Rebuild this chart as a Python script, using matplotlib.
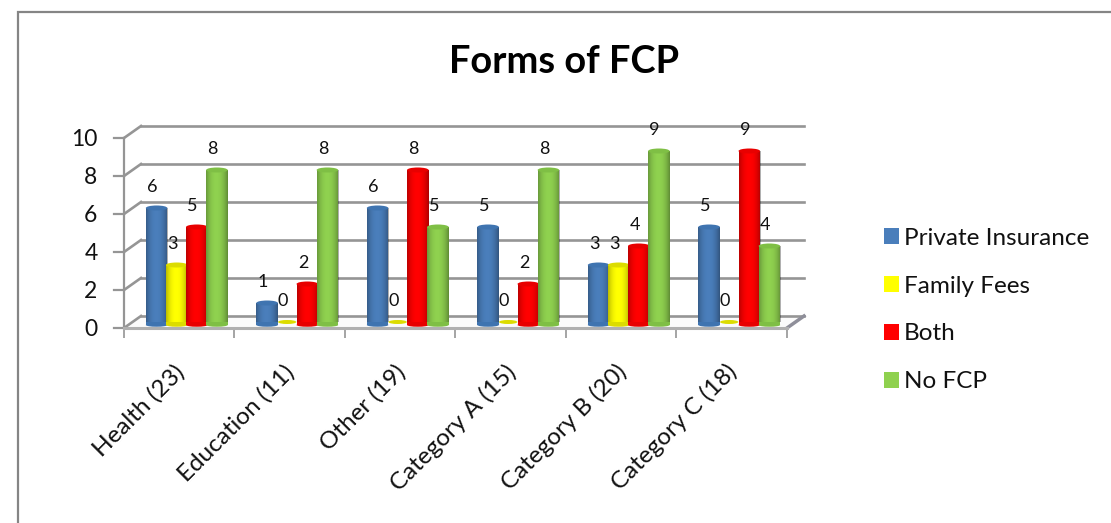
import numpy as np
import matplotlib
matplotlib.use("Agg")
import matplotlib.pyplot as plt
from matplotlib.transforms import Affine2D
from matplotlib.patches import Ellipse, Rectangle, Polygon

categories = ["Health (23)", "Education (11)", "Other (19)", "Category A (15)", "Category B (20)", "Category C (18)"]
private_insurance = [6, 1, 6, 5, 3, 5]
family_fees = [3, 0, 0, 0, 3, 0]
both = [5, 2, 8, 2, 4, 9]
no_fcp = [8, 8, 5, 8, 9, 4]
series_names = ["Private Insurance", "Family Fees", "Both", "No FCP"]
series_values = [private_insurance, family_fees, both, no_fcp]
series_colors = ["#4a7ebb", "#ffff00", "#ff0000", "#8fd14f"]
series_dark = ["#3f74b0", "#dcdc00", "#e80000", "#7fbf45"]
y_ticks = [0, 2, 4, 6, 8, 10]
title = "Forms of FCP"

W, H = 1111, 523
plt.rcParams["font.family"] = ["Lato", "DejaVu Sans"]
fig = plt.figure(figsize=(W / 100, H / 100), dpi=100)
L, R, T, B = 124, 787, 138, 328
ax = fig.add_axes([L / W, 1 - B / H, (R - L) / W, (B - T) / H])
ax.set_xlim(0, 6)
ax.set_ylim(0, 10)
ax.patch.set_visible(False)
for s in ax.spines.values():
    s.set_visible(False)

DX, DY = 17, 12
back = ax.transData + Affine2D().translate(DX, DY)
bar_tr = ax.transData + Affine2D().translate(7.5, 6)
GRID = "#959595"

# walls and floor
x0, y0 = ax.transData.transform((0, 0))
x1, _ = ax.transData.transform((6, 0))
ax.add_patch(Polygon([(x0, y0), (x1, y0), (x1 + DX, y0 + DY), (x0 + DX, y0 + DY)], closed=True,
                     transform=None, fc="#fbfbfb", ec="none", zorder=0.5, clip_on=False))
for v in y_ticks:
    ax.plot([0, 6], [v, v], transform=back, color=GRID, lw=1.9, zorder=1, clip_on=False)
    xv, yv = ax.transData.transform((0, v))
    ax.plot([xv, xv + DX], [yv, yv + DY], transform=None, color=GRID, lw=1.9, zorder=1, clip_on=False)
    ax.plot([xv - 10, xv], [yv, yv], transform=None, color=GRID, lw=1.6, zorder=1, clip_on=False)
ax.plot([0, 0], [0, 10], color=GRID, lw=1.6, zorder=1, clip_on=False)
ax.plot([x1, x1 + DX], [y0, y0 + DY], transform=None, color="#8f8f9a", lw=2.5, zorder=1, clip_on=False)
ax.plot([0, 6], [0, 0], color="#b0b0b0", lw=2.2, zorder=2, clip_on=False)

# bars
step, w = 0.182, 0.195
wpx = w * (R - L) / 6
grad = np.zeros((1, 64, 4))
t = np.linspace(0, 1, 64)
grad[0, :, 3] = np.clip(np.abs(2 * t - 0.95) ** 2.2 * 0.3, 0, 1)
handles = []
for i, (name, vals, col, dark) in enumerate(zip(series_names, series_values, series_colors, series_dark)):
    xs = np.arange(6) + 0.5 + (i - 1.5) * step
    z = 3 + i * 0.1
    bars = ax.bar(xs, vals, width=w, color=col, transform=bar_tr, zorder=z, label=name, clip_on=False)
    handles.append(Rectangle((0, 0), 1, 1, fc=col))
    for bar, x, v in zip(bars, xs, vals):
        px, py = bar_tr.transform((x, v))
        px0, py0 = bar_tr.transform((x, 0))
        if v > 0:
            im = ax.imshow(grad, extent=(x - w / 2, x + w / 2, 0, v), aspect="auto", transform=bar_tr,
                           zorder=z + 0.01, clip_on=True)
            im.set_clip_path(bar)
            ax.add_patch(Rectangle((px - wpx / 2, py0 - 3), wpx, 3.5, transform=None, fc=dark, ec="none", zorder=z, clip_on=False))
            ax.add_patch(Ellipse((px, py0 - 3), wpx, 3.5, transform=None, fc=dark, ec="none", zorder=z, clip_on=False))
            ax.add_patch(Ellipse((px, py), wpx, 5, transform=None, fc=dark, ec="none", zorder=z + 0.02, clip_on=False))
        else:
            ax.add_patch(Ellipse((px, py0), wpx * 0.85, 4, transform=None, fc=dark, ec="none", zorder=z, clip_on=False))
        ax.annotate(str(v), (x, v), xycoords=bar_tr, xytext=(-3, 21 * 0.72), textcoords="offset points",
                    ha="center", va="center", fontsize=13, color="#111111", zorder=5, annotation_clip=False)

# axes ticks
ax.set_yticks(y_ticks)
ax.tick_params(axis="y", length=0, pad=19, labelsize=16.5, colors="#111111")
ax.set_xticks(range(7))
ax.set_xticklabels([])
ax.tick_params(axis="x", length=7, width=1.2, color=GRID)
ax.set_xticks(np.arange(6) + 0.5, minor=True)
ax.set_xticklabels(categories, minor=True, rotation=45, ha="right", rotation_mode="anchor", fontsize=17.5, color="#111111")
ax.tick_params(axis="x", which="minor", length=0, pad=12)
for lab in ax.get_xticklabels(minor=True):
    lab.set_transform(lab.get_transform() + Affine2D().translate(-6, -16))

fig.text(564.5 / W, 1 - 62 / H, title, ha="center", va="center", fontsize=27.4, fontweight="bold", color="black")

fig.legend(handles, series_names, loc="center left", bbox_to_anchor=(884 / W, 1 - 310 / H), frameon=False,
           fontsize=17.5, handlelength=0.62, handleheight=0.62, handletextpad=0.2, labelspacing=1.11, labelcolor="#111111",
           borderpad=0, borderaxespad=0)

fig.add_artist(Rectangle((18 / W, -0.02), (W + 30) / W, 1 - 12 / H + 0.02, transform=fig.transFigure, fc="none", ec="#858585", lw=1.6, zorder=0))
fig.savefig("out.png", dpi=100)
